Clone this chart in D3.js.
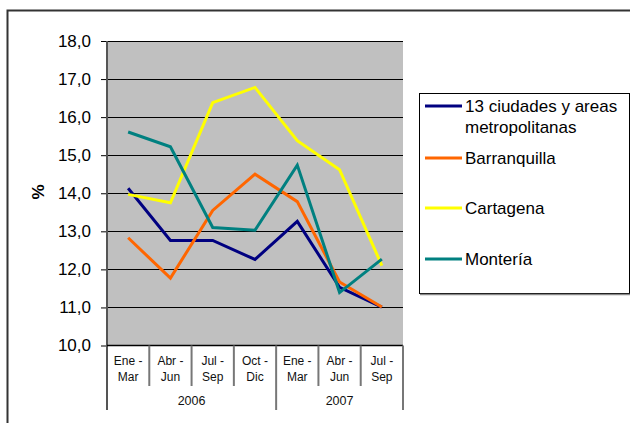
<!DOCTYPE html>
<html>
<head>
<meta charset="utf-8">
<script src="https://cdn.jsdelivr.net/npm/d3@7"></script>
<style>
  body { margin: 0; background: #fff; }
  svg { font-family: "Liberation Sans", Arial, sans-serif; }
</style>
</head>
<body>
<div id="chart"></div>
<script>
// data
const quarters = ["Ene - Mar", "Abr - Jun", "Jul - Sep", "Oct - Dic", "Ene - Mar", "Abr - Jun", "Jul - Sep"];
const years = ["2006", "2007"];
const yearSpan = [4, 3];
const yTicks = [10, 11, 12, 13, 14, 15, 16, 17, 18];
const ciudades13 = [14.13, 12.76, 12.76, 12.26, 13.26, 11.53, 11.01];
const barranquilla = [12.83, 11.77, 13.55, 14.50, 13.78, 11.67, 11.01];
const cartagena = [13.97, 13.75, 16.38, 16.78, 15.38, 14.62, 12.10];
const monteria = [15.61, 15.22, 13.10, 13.03, 14.74, 11.39, 12.27];
const seriesNames = [["13 ciudades y areas", "metropolitanas"], ["Barranquilla"], ["Cartagena"], ["Montería"]];

const series = [
    { name: seriesNames[0], values: ciudades13, color: "#000080" },
    { name: seriesNames[1], values: barranquilla, color: "#FF6600" },
    { name: seriesNames[2], values: cartagena, color: "#FFFF00" },
    { name: seriesNames[3], values: monteria, color: "#008080" }
];

const W = 630, H = 423;
const plot = { left: 107, top: 41, right: 403, bottom: 345.5 };

let svg = d3.select("#chart").append("svg")
    .attr("width", W)
    .attr("height", H);

// outer frame
svg.append("rect")
    .attr("x", 7.5).attr("y", 10.5)
    .attr("width", 640).attr("height", 430)
    .attr("fill", "#fff")
    .attr("stroke", "#333").attr("stroke-width", 2);

let x = d3.scaleBand()
    .domain(d3.range(quarters.length))
    .range([plot.left, plot.right]);
let y = d3.scaleLinear()
    .domain([10, 18])
    .range([plot.bottom, plot.top]);

// plot background
svg.append("rect")
    .attr("x", plot.left).attr("y", plot.top)
    .attr("width", plot.right - plot.left)
    .attr("height", plot.bottom - plot.top)
    .attr("fill", "#C0C0C0");

// gridlines
svg.append("g")
    .selectAll("line")
    .data(yTicks.slice(1))
    .enter().append("line")
    .attr("x1", plot.left).attr("x2", plot.right)
    .attr("y1", d => Math.round(y(d)) + 0.5)
    .attr("y2", d => Math.round(y(d)) + 0.5)
    .attr("stroke", "#000").attr("stroke-width", 1);

// y axis
let yAxis = svg.append("g")
    .attr("transform", "translate(" + plot.left + ",0)")
    .call(d3.axisLeft(y)
        .tickValues(yTicks)
        .tickSize(6)
        .tickPadding(10)
        .tickFormat(d => d3.format(".1f")(d).replace(".", ",")));
yAxis.select(".domain").remove();
yAxis.selectAll(".tick line").attr("stroke", "#000");
yAxis.selectAll("text")
    .style("font-size", "17px")
    .attr("fill", "#000");
svg.append("line")
    .attr("x1", plot.left).attr("x2", plot.left)
    .attr("y1", plot.top).attr("y2", 410)
    .attr("stroke", "#555").attr("stroke-width", 2);

svg.append("text")
    .attr("transform", "translate(44,192)rotate(-90)")
    .attr("text-anchor", "middle")
    .style("font-size", "17px")
    .style("font-weight", "bold")
    .text("%");

// x axis line and category dividers
svg.append("line")
    .attr("x1", plot.left).attr("x2", plot.right)
    .attr("y1", plot.bottom).attr("y2", plot.bottom)
    .attr("stroke", "#000").attr("stroke-width", 1.5);

let boundaries = d3.range(1, quarters.length + 1);
let yearEnds = Array.from(d3.cumsum(yearSpan));
let yearStart = [0].concat(yearEnds.slice(0, -1));
svg.append("g")
    .selectAll("line")
    .data(boundaries)
    .enter().append("line")
    .attr("x1", d => x(d - 1) + x.bandwidth())
    .attr("x2", d => x(d - 1) + x.bandwidth())
    .attr("y1", plot.bottom)
    .attr("y2", d => yearEnds.includes(d) ? 410 : 386)
    .attr("stroke", "#777").attr("stroke-width", 2);

let qLabels = svg.append("g")
    .selectAll("text")
    .data(quarters)
    .enter().append("text")
    .attr("text-anchor", "middle")
    .style("font-size", "12px")
    .attr("fill", "#111");
qLabels.append("tspan")
    .attr("x", (d, i) => x(i) + x.bandwidth() / 2)
    .attr("y", 365)
    .text(d => d.split(" - ")[0] + " -");
qLabels.append("tspan")
    .attr("x", (d, i) => x(i) + x.bandwidth() / 2)
    .attr("y", 381)
    .text(d => d.split(" - ")[1]);

svg.append("g")
    .selectAll("text")
    .data(years)
    .enter().append("text")
    .attr("x", (d, i) => (x(yearStart[i]) + x(yearEnds[i] - 1) + x.bandwidth()) / 2)
    .attr("y", 405)
    .attr("text-anchor", "middle")
    .style("font-size", "12.5px")
    .attr("fill", "#111")
    .text(d => d);

// lines
let line = d3.line()
    .x((d, i) => x(i) + x.bandwidth() / 2)
    .y(d => y(d));
svg.append("g")
    .selectAll("path")
    .data(series)
    .enter().append("path")
    .attr("d", d => line(d.values))
    .attr("fill", "none")
    .attr("stroke", d => d.color)
    .attr("stroke-width", 3);

// legend
svg.append("rect")
    .attr("x", 419.5).attr("y", 93.5)
    .attr("width", 210).attr("height", 200)
    .attr("fill", "#fff")
    .attr("stroke", "#000").attr("stroke-width", 1);
svg.append("line")
    .attr("x1", 420).attr("x2", 630)
    .attr("y1", 294.5).attr("y2", 294.5)
    .attr("stroke", "#888").attr("stroke-width", 1.5);

const legendY = [106, 158, 208, 259];
let leg = svg.append("g")
    .selectAll("g")
    .data(series)
    .enter().append("g")
    .attr("transform", (d, i) => "translate(0," + legendY[i] + ")");
leg.append("line")
    .attr("x1", 425).attr("x2", 462)
    .attr("y1", 0).attr("y2", 0)
    .attr("stroke", d => d.color)
    .attr("stroke-width", 3);
leg.append("text")
    .style("font-size", "17px")
    .attr("fill", "#000")
    .selectAll("tspan")
    .data(d => d.name)
    .enter().append("tspan")
    .attr("x", 465)
    .attr("y", (d, i) => 6 + i * 21)
    .text(d => d);
</script>
</body>
</html>
